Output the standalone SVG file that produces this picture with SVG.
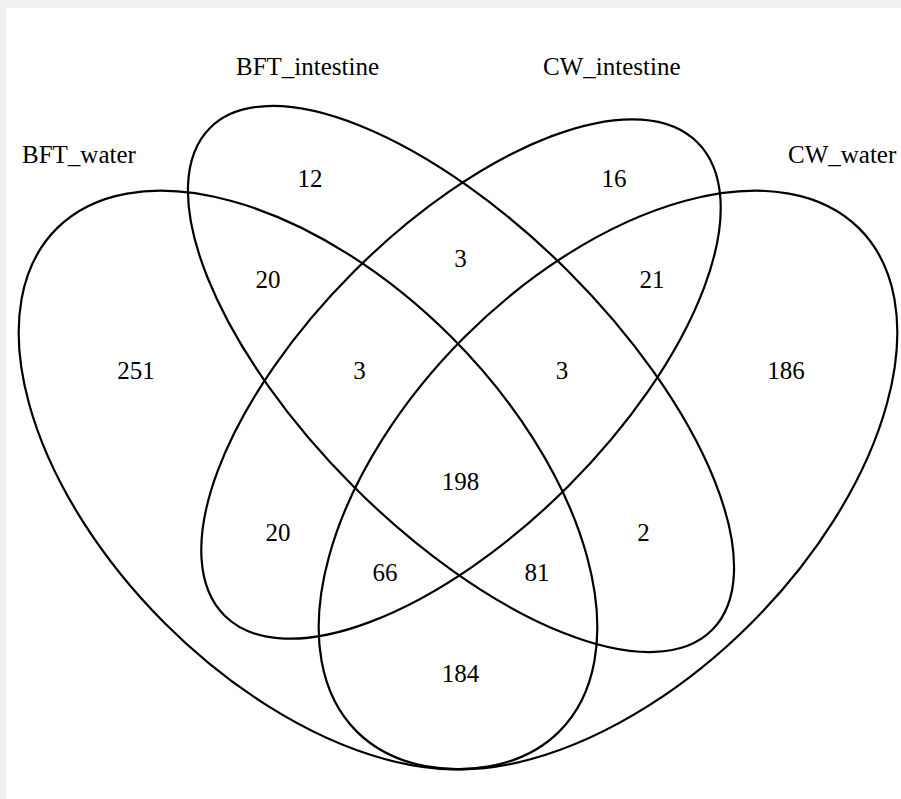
<svg xmlns="http://www.w3.org/2000/svg" width="901" height="799" viewBox="0 0 901 799">
<style>
.set{fill:none;stroke:#000;stroke-width:2.2}
text{font-family:"Liberation Serif","Times New Roman",serif;font-size:25px;fill:#000}
.n{text-anchor:middle}
</style>
<rect width="901" height="799" fill="#f1f1f1"/>
<rect x="6" y="8" width="895" height="791" fill="#ffffff"/>
<g id="bft_water">
<ellipse class="set" cx="308" cy="480" rx="355.5" ry="202.5" transform="rotate(45 308 480)"/>
<text x="22" y="163">BFT_water</text>
</g>
<g id="bft_intestine">
<ellipse class="set" cx="461" cy="379" rx="355" ry="152" transform="rotate(45 461 379)"/>
<text x="236" y="75">BFT_intestine</text>
</g>
<g id="cw_intestine">
<ellipse class="set" cx="461" cy="379" rx="334.5" ry="151.7" transform="rotate(-45 461 379)"/>
<text x="543" y="75">CW_intestine</text>
</g>
<g id="cw_water">
<ellipse class="set" cx="608" cy="480" rx="355.5" ry="202.5" transform="rotate(-45 608 480)"/>
<text x="788" y="163">CW_water</text>
</g>
<g id="connectors"></g>
<g id="counts" class="n">
<text x="310" y="187">12</text>
<text x="614" y="187">16</text>
<text x="268" y="288">20</text>
<text x="460.5" y="267">3</text>
<text x="652" y="288">21</text>
<text x="136" y="379">251</text>
<text x="359.5" y="379">3</text>
<text x="562" y="379">3</text>
<text x="786" y="379">186</text>
<text x="460.5" y="490">198</text>
<text x="278" y="541">20</text>
<text x="643.5" y="541">2</text>
<text x="385" y="581">66</text>
<text x="537" y="581">81</text>
<text x="460.5" y="682">184</text>
</g>
</svg>
